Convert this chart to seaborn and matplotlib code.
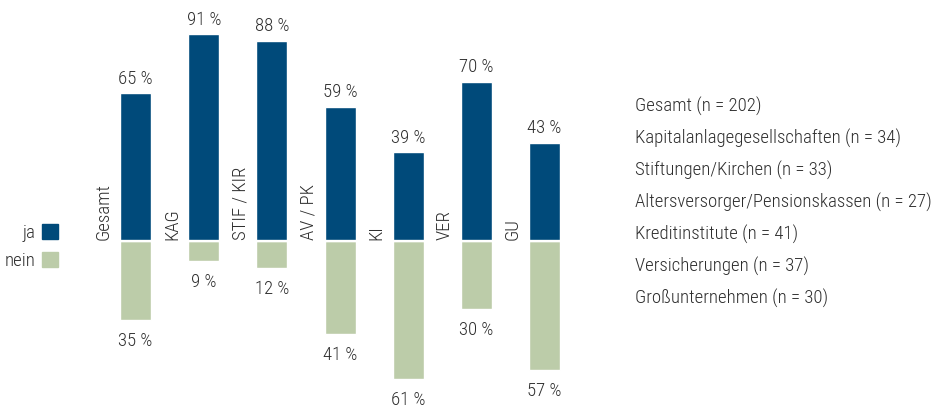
import matplotlib
matplotlib.use("Agg")
import matplotlib.pyplot as plt
import seaborn as sns
import pandas as pd
from matplotlib.patches import Patch

# ---------------------------------------------
# Data
# ---------------------------------------------
groups = ["Gesamt", "KAG", "STIF / KIR", "AV / PK", "KI", "VER", "GU"]
ja = [65, 91, 88, 59, 39, 70, 43]
nein = [35, 9, 12, 41, 61, 30, 57]
group_names = [
    "Gesamt (n = 202)",
    "Kapitalanlagegesellschaften (n = 34)",
    "Stiftungen/Kirchen (n = 33)",
    "Altersversorger/Pensionskassen (n = 27)",
    "Kreditinstitute (n = 41)",
    "Versicherungen (n = 37)",
    "Großunternehmen (n = 30)",
]
legend_labels = ["ja", "nein"]

BLUE = "#004a7a"
GREEN = "#bccca9"
TEXT = "#2e2e2e"
FS = 13.5

sns.set_theme(style="white")
plt.rcParams["font.family"] = ["Roboto Condensed", "DejaVu Sans"]
plt.rcParams["font.stretch"] = "condensed"
plt.rcParams["font.weight"] = 300

df = pd.DataFrame({"group": groups, "ja": ja, "nein": [-v for v in nein]})

fig = plt.figure(figsize=(9.33, 4.11), dpi=100)
ax = fig.add_axes([0, 0, 1, 1])

sns.barplot(data=df, x="group", y="ja", color=BLUE, width=0.455,
            saturation=1, ax=ax)
sns.barplot(data=df, x="group", y="nein", color=GREEN, width=0.455,
            saturation=1, ax=ax)
ax.axhline(0, color="white", lw=1.7)

ax.set_xlim(-1.99, 11.70)
ax.set_ylim(-75, 106)
ax.axis("off")

# value labels
for i, (a, b) in enumerate(zip(ja, nein)):
    ax.annotate(f"{a} %", (i, a), xytext=(0, 4), textcoords="offset points",
                ha="center", va="bottom", fontsize=FS, color=TEXT)
    ax.annotate(f"{b} %", (i, -b), xytext=(0, -8.5), textcoords="offset points",
                ha="center", va="top", fontsize=FS, color=TEXT)
    # category label, rotated, left of the bar
    ax.text(i - 0.465, 0.5, groups[i], rotation=90, ha="center", va="bottom",
            fontsize=FS, color=TEXT)

# left legend
handles = [Patch(color=BLUE), Patch(color=GREEN)]
leg = fig.legend(handles, legend_labels, loc="center right",
                 bbox_to_anchor=(58 / 933, 1 - 247 / 411), frameon=False,
                 markerfirst=False, handlelength=0.85, handleheight=0.85,
                 handletextpad=0.35, labelspacing=0.5, fontsize=FS,
                 borderaxespad=0, borderpad=0)
for t in leg.get_texts():
    t.set_color(TEXT)

# right legend (group names)
for k, name in enumerate(group_names):
    fig.text(635 / 933, 1 - (106 + 32 * k) / 411, name, ha="left",
             va="center", fontsize=FS, color=TEXT)

fig.savefig("out.png", dpi=100)
